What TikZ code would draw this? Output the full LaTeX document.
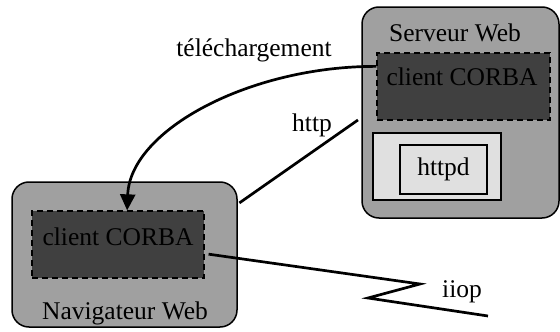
\documentclass[tikz,border=0pt]{standalone}
\usepackage{fontspec}
\setmainfont{Liberation Serif}
\usetikzlibrary{arrows.meta}
\definecolor{hostgray}{RGB}{160,160,160}
\definecolor{compdark}{RGB}{64,64,64}
\definecolor{paneLight}{RGB}{224,224,224}
\begin{document}
\begin{tikzpicture}[x=1pt,y=-1pt,
  font=\fontsize{25.5}{30}\selectfont,
  host/.style={draw=black, line width=1.5pt, fill=hostgray, rounded corners=17pt,
    inner sep=0pt},
  comp/.style={draw=black, line width=1.3pt, dash pattern=on 6pt off 4pt,
    fill=compdark, inner sep=0pt},
  pane/.style={draw=black, line width=1.5pt, fill=paneLight, inner sep=0pt},
  lbl/.style={inner sep=0pt, anchor=center},
  link/.style={line width=2.7pt},
]
\useasboundingbox (0,0) rectangle (560,332);

% web server with its components
\node[host, minimum width=197pt, minimum height=211pt] (srv) at (460.5,112.5) {};
\node[lbl] (srvname) at (455,33) {Serveur Web};
\node[comp, minimum width=173pt, minimum height=67pt] (srvclient) at (463.5,86.5) {};
\node[lbl] (srvclientname) at (462,77) {client CORBA};
\node[pane, minimum width=128pt, minimum height=67pt] (httpdpane) at (437,166.5) {};
\node[pane, minimum width=87pt, minimum height=49pt] (httpd) at (443.5,169.5) {httpd};

% browser with its downloaded client
\node[host, minimum width=225pt, minimum height=145pt] (nav) at (124.5,254.5) {};
\node[comp, minimum width=172pt, minimum height=67pt] (navclient) at (118,244.5) {};
\node[lbl] (navclientname) at (118,237) {client CORBA};
\node[lbl] (navname) at (125,313) {Navigateur Web};

% connectors
\draw[link, -{Triangle[length=16pt,width=15pt]}]
  (srvclient.167) .. controls (250,66) and (130,130) .. (navclient.75);
\node[lbl] (dl) at (254,50) {téléchargement};

\draw[link, shorten <=2pt, shorten >=4pt] (nav.24) -- (srv.183);
\node[lbl] (httplbl) at (312,125) {http};

\coordinate (iiopend) at (488,316);
\draw[link, shorten <=4pt] (navclient.-6) -- (420,284) -- (368,298) -- (iiopend);
\node[lbl] (iioplbl) at (462,292) {iiop};
\end{tikzpicture}
\end{document}
